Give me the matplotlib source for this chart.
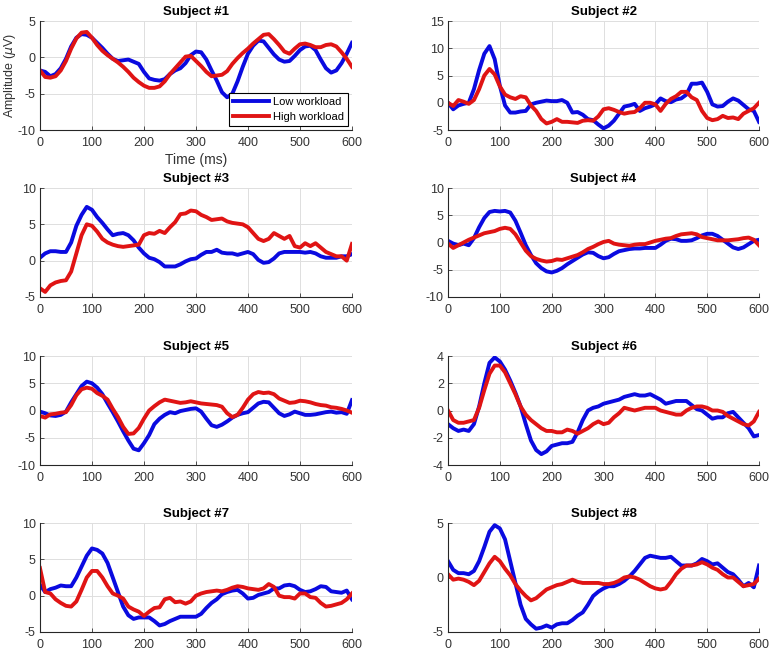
import matplotlib
matplotlib.use("Agg")
import matplotlib.pyplot as plt
import numpy as np

plt.rcParams['font.family'] = ['Liberation Sans', 'DejaVu Sans']
plt.rcParams['axes.unicode_minus'] = False

# time axis (ms), one sample every 10 ms
time_ms = np.arange(0, 601, 10)
x_ticks = [0, 100, 200, 300, 400, 500, 600]

# ERP amplitudes (uV), low / high workload per subject
low_1 = [-1.8, -2.0, -2.6, -2.3, -1.5, -0.2, 1.5, 2.7, 3.2, 3.1, 2.7, 2.0, 1.3, 0.5, -0.2, -0.5,
         -0.4, -0.3, -0.6, -0.9, -2.0, -2.9, -3.1, -3.2, -3.0, -2.3, -1.8, -1.5, -0.8, 0.3, 0.8,
         0.7, -0.3, -1.8, -3.2, -4.8, -5.5, -5.0, -3.3, -1.3, 0.5, 1.6, 2.3, 2.2, 1.3, 0.4, -0.3,
         -0.6, -0.5, 0.2, 1.0, 1.5, 1.6, 1.0, -0.3, -1.5, -2.1, -1.8, -0.8, 0.5, 2.0]
high_1 = [-1.8, -2.7, -2.8, -2.6, -1.8, -0.5, 1.2, 2.6, 3.4, 3.5, 2.7, 1.7, 0.9, 0.3, -0.2, -0.7,
          -1.3, -2.0, -2.8, -3.4, -3.9, -4.2, -4.2, -4.0, -3.3, -2.3, -1.5, -0.7, 0.1, 0.2, -0.5,
          -1.2, -2.0, -2.6, -2.5, -2.4, -1.9, -0.9, -0.1, 0.6, 1.2, 1.9, 2.5, 3.1, 3.2, 2.5, 1.7,
          0.8, 0.5, 1.2, 1.8, 1.9, 1.7, 1.4, 1.4, 1.7, 1.8, 1.5, 0.7, -0.2, -1.3]

low_2 = [0.0, -1.2, -0.5, -0.2, 0.0, 2.5, 6.0, 9.0, 10.4, 8.0, 3.1, -0.5, -1.8, -1.8, -1.6, -1.5,
         -0.3, 0.0, 0.2, 0.4, 0.3, 0.3, 0.5, 0.0, -1.8, -1.7, -2.2, -3.0, -3.2, -4.0, -4.7,
         -4.2, -3.3, -2.0, -0.7, -0.5, -0.2, -1.5, -1.0, -0.7, -0.3, 0.8, 0.3, 0.1, 0.6, 0.8, 1.5,
         3.5, 3.5, 3.7, 2.0, -0.3, -0.7, -0.6, 0.2, 0.8, 0.4, -0.4, -1.2, -1.5, -3.5]
high_2 = [0.0, -0.6, 0.5, 0.2, -0.2, 0.5, 2.5, 5.0, 6.2, 5.2, 3.0, 1.5, 1.0, 0.7, 1.2, 1.0,
          -0.5, -1.5, -3.0, -3.8, -3.5, -3.0, -3.5, -3.5, -3.6, -3.7, -3.3, -3.2, -3.3, -2.5, -1.2,
          -1.0, -1.3, -1.7, -2.0, -1.8, -1.7, -1.0, 0.0, 0.0, -0.3, -1.5, -0.2, 0.7, 1.2, 2.0, 2.0,
          1.0, 0.5, -1.5, -2.8, -3.2, -3.0, -2.4, -2.8, -2.7, -3.0, -2.0, -1.5, -1.0, 0.0]

low_3 = [0.4, 1.0, 1.3, 1.3, 1.2, 1.2, 2.5, 4.8, 6.3, 7.4, 7.0, 6.0, 5.2, 4.3, 3.5, 3.7,
         3.8, 3.5, 2.8, 1.8, 1.0, 0.4, 0.2, -0.2, -0.8, -0.8, -0.8, -0.5, -0.1, 0.2, 0.3,
         0.8, 1.2, 1.2, 1.5, 1.1, 1.0, 1.0, 0.8, 1.0, 1.2, 0.9, 0.1, -0.3, -0.2, 0.3, 1.0,
         1.2, 1.2, 1.2, 1.2, 1.1, 1.2, 1.0, 0.6, 0.4, 0.4, 0.4, 0.6, 0.6, 0.9]
high_3 = [-3.8, -4.3, -3.4, -3.0, -2.8, -2.7, -1.5, 1.0, 3.5, 5.0, 4.8, 4.0, 3.0, 2.5, 2.2, 2.0,
          1.9, 2.0, 2.1, 2.2, 3.5, 3.8, 3.7, 4.1, 3.8, 4.6, 5.3, 6.4, 6.5, 6.9, 6.8,
          6.3, 6.0, 5.6, 5.7, 5.8, 5.4, 5.2, 5.1, 5.0, 4.6, 3.8, 3.0, 2.7, 3.0, 3.8, 3.4,
          3.0, 3.4, 2.0, 1.8, 2.4, 2.0, 2.4, 1.8, 1.2, 0.9, 0.6, 0.6, 0.0, 2.3]

low_4 = [0.3, -0.2, -0.5, -0.2, -0.5, 0.8, 2.8, 4.5, 5.6, 5.8, 5.7, 5.8, 5.5, 4.0, 1.8, -0.5,
         -2.3, -3.8, -4.7, -5.3, -5.5, -5.2, -4.7, -4.0, -3.4, -2.8, -2.2, -1.8, -1.9, -2.5, -2.9,
         -2.7, -2.1, -1.6, -1.4, -1.2, -1.1, -1.1, -1.0, -1.0, -1.0, -0.4, 0.3, 0.7, 0.6, 0.3, 0.3,
         0.4, 0.8, 1.3, 1.6, 1.6, 1.2, 0.5, -0.2, -0.9, -1.2, -0.9, -0.3, 0.3, 0.5]
high_4 = [-0.2, -1.0, -0.5, 0.0, 0.5, 0.9, 1.3, 1.7, 1.9, 2.1, 2.5, 2.7, 2.5, 1.5, 0.0, -1.5,
          -2.5, -3.0, -3.3, -3.5, -3.4, -3.1, -3.2, -2.9, -2.6, -2.3, -1.8, -1.2, -0.8, -0.3, 0.1,
          0.3, -0.2, -0.4, -0.5, -0.6, -0.4, -0.3, -0.3, 0.0, 0.3, 0.5, 0.7, 0.8, 1.2, 1.5, 1.6,
          1.7, 1.5, 1.0, 0.8, 0.6, 0.4, 0.4, 0.4, 0.5, 0.6, 0.8, 0.9, 0.5, -0.5]

low_5 = [-0.2, -0.5, -0.9, -1.0, -0.8, -0.2, 1.5, 3.0, 4.5, 5.3, 5.0, 4.2, 3.0, 1.3, -0.3, -2.0,
         -3.8, -5.5, -7.0, -7.3, -6.0, -4.5, -2.5, -1.5, -0.8, -0.3, -0.5, -0.1, 0.1, 0.3, 0.4,
         -0.2, -1.5, -2.7, -3.0, -2.6, -2.0, -1.3, -0.8, -0.5, -0.3, 0.5, 1.3, 1.6, 1.5, 0.5, -0.5,
         -1.0, -0.7, -0.2, -0.5, -0.8, -0.8, -0.7, -0.5, -0.3, -0.2, -0.4, -0.3, -0.6, 1.9]
high_5 = [-1.0, -1.3, -0.7, -0.6, -0.4, -0.3, 1.0, 2.8, 3.9, 4.2, 4.0, 3.2, 2.7, 2.0, 0.3, -1.2,
          -3.0, -4.3, -4.2, -3.2, -1.5, 0.0, 0.8, 1.5, 2.0, 1.8, 1.6, 1.4, 1.5, 1.7, 1.5,
          1.3, 1.2, 1.1, 1.0, 0.7, -0.5, -1.2, -0.8, 0.5, 2.0, 3.0, 3.4, 3.2, 3.3, 3.0, 2.2,
          1.8, 1.4, 1.5, 1.8, 1.7, 1.5, 1.2, 1.0, 0.9, 0.6, 0.5, 0.3, 0.0, -0.4]

low_6 = [-1.0, -1.3, -1.5, -1.4, -1.5, -1.0, 0.3, 2.0, 3.5, 3.9, 3.6, 3.0, 2.2, 1.3, 0.3, -1.0,
         -2.2, -2.9, -3.2, -3.0, -2.6, -2.5, -2.4, -2.4, -2.3, -1.6, -0.7, 0.0, 0.2, 0.3, 0.5,
         0.6, 0.7, 0.8, 1.0, 1.1, 1.2, 1.1, 1.1, 1.2, 1.0, 0.8, 0.5, 0.6, 0.7, 0.7, 0.7,
         0.4, 0.1, 0.0, -0.3, -0.6, -0.5, -0.5, -0.2, -0.1, -0.5, -0.9, -1.3, -1.9, -1.8]
high_6 = [0.0, -0.7, -0.9, -0.9, -0.8, -0.7, 0.2, 1.5, 2.7, 3.3, 3.3, 2.8, 2.0, 1.2, 0.3, -0.3,
          -0.7, -1.0, -1.3, -1.5, -1.5, -1.6, -1.6, -1.4, -1.5, -1.7, -1.5, -1.3, -1.0, -0.8, -1.0,
          -0.9, -0.5, -0.2, 0.2, 0.1, 0.0, 0.1, 0.2, 0.2, 0.2, 0.0, -0.1, -0.2, -0.3, -0.3, 0.0,
          0.2, 0.3, 0.3, 0.2, 0.0, 0.0, -0.1, -0.4, -0.6, -0.8, -1.0, -1.1, -0.8, -0.1]

low_7 = [1.5, 0.5, 0.9, 1.1, 1.4, 1.3, 1.3, 2.5, 4.0, 5.5, 6.5, 6.3, 5.8, 4.5, 2.5, 0.5,
         -1.5, -2.7, -3.2, -3.0, -3.0, -3.0, -3.5, -4.1, -3.9, -3.5, -3.2, -2.9, -2.9, -2.9, -2.9,
         -2.5, -1.7, -1.0, -0.5, 0.2, 0.5, 0.7, 0.8, 0.3, -0.4, -0.3, 0.1, 0.3, 0.5, 1.0, 1.0,
         1.4, 1.5, 1.3, 0.8, 0.5, 0.6, 0.9, 1.3, 1.2, 0.6, 0.5, 0.4, 0.7, -0.5]
high_7 = [3.8, 0.5, 0.3, -0.5, -1.0, -1.4, -1.5, -0.8, 0.8, 2.5, 3.4, 3.4, 2.5, 1.3, 0.3, 0.0,
          -0.4, -1.5, -1.9, -2.2, -2.8, -2.2, -1.7, -1.6, -0.5, -0.3, -0.9, -0.8, -1.1, -0.8, 0.0,
          0.3, 0.5, 0.6, 0.7, 0.6, 0.8, 1.1, 1.3, 1.2, 1.0, 0.9, 0.8, 1.0, 1.6, 1.2, 0.0,
          -0.2, -0.2, -0.4, 0.3, 0.3, -0.2, -0.3, -1.0, -1.5, -1.4, -1.2, -1.0, -0.5, 0.3]

low_8 = [1.5, 0.7, 0.4, 0.4, 0.3, 0.6, 1.5, 2.8, 4.2, 4.8, 4.5, 3.5, 1.5, -0.5, -2.5, -3.8,
         -4.3, -4.7, -4.6, -4.4, -4.6, -4.3, -4.2, -4.2, -3.9, -3.5, -3.2, -2.5, -1.7, -1.3, -1.0,
         -0.8, -0.8, -0.6, -0.3, 0.1, 0.6, 1.2, 1.8, 2.0, 1.9, 1.8, 1.8, 1.9, 1.5, 1.1, 1.1,
         1.1, 1.3, 1.7, 1.5, 1.2, 1.3, 0.9, 0.5, 0.3, -0.2, -0.8, -0.5, -0.9, 1.1]
high_8 = [0.3, -0.2, -0.1, -0.2, -0.4, -0.7, -0.3, 0.5, 1.3, 1.9, 1.5, 0.8, 0.2, -0.6, -1.2, -1.7,
          -2.1, -1.9, -1.5, -1.1, -0.9, -0.7, -0.6, -0.4, -0.2, -0.4, -0.5, -0.5, -0.5, -0.5, -0.6,
          -0.6, -0.5, -0.3, 0.0, 0.1, 0.0, -0.2, -0.5, -0.8, -1.0, -1.1, -1.0, -0.4, 0.3, 0.8, 1.1,
          1.1, 1.2, 1.4, 1.2, 0.9, 0.7, 0.3, 0.0, 0.0, -0.4, -0.8, -0.7, -0.6, -0.1]

low_workload = [low_1, low_2, low_3, low_4, low_5, low_6, low_7, low_8]
high_workload = [high_1, high_2, high_3, high_4, high_5, high_6, high_7, high_8]

y_limits = [(-10, 5), (-5, 15), (-5, 10), (-10, 10), (-10, 10), (-4, 4), (-5, 10), (-5, 5)]
y_ticks = [[-10, -5, 0, 5], [-5, 0, 5, 10, 15], [-5, 0, 5, 10], [-10, -5, 0, 5, 10],
           [-10, -5, 0, 5, 10], [-4, -2, 0, 2, 4], [-5, 0, 5, 10], [-5, 0, 5]]

low_color = "#0a0ae0"
high_color = "#e01414"
text_color = "#333333"


def main():
    fig = plt.figure(figsize=(7.73, 6.51), dpi=100)

    # axes positions in figure fractions (left column / right column, four rows)
    lefts = [0.0517, 0.5796]
    widths = [0.4036, 0.4023]
    bottoms = [0.8003, 0.5438, 0.2857, 0.0292]
    height = 0.1674

    for i in range(8):
        row, col = i // 2, i % 2
        ax = fig.add_axes([lefts[col], bottoms[row], widths[col], height])

        ax.plot(time_ms, low_workload[i], c=low_color, lw=2.8, label="Low workload")
        ax.plot(time_ms, high_workload[i], c=high_color, lw=2.8, label="High workload")

        ax.set_xlim(0, 600)
        ax.set_ylim(*y_limits[i])
        ax.set_xticks(x_ticks)
        ax.set_yticks(y_ticks[i])
        ax.grid(True, color="#dedede", lw=0.7)
        ax.set_axisbelow(True)

        ax.spines["right"].set_visible(False)
        ax.spines["top"].set_visible(False)
        for side in ["left", "bottom"]:
            ax.spines[side].set_color("#262626")
            ax.spines[side].set_linewidth(0.8)
        ax.tick_params(direction="in", length=3, width=0.6, colors=text_color, labelsize=9)
        ax.tick_params(axis="x", pad=5)
        ax.tick_params(axis="y", pad=3)

        ax.set_title("Subject #%d" % (i + 1), fontsize=9.5, fontweight="bold", color="black", pad=4)

        if i == 0:
            ax.set_xlabel("Time (ms)", fontsize=10, color=text_color, labelpad=3)
            ax.set_ylabel("Amplitude ($\\mu$V)", fontsize=9, color=text_color)
            ax.yaxis.set_label_coords(-0.07, 0.5)
            leg = ax.legend(loc="lower right", fontsize=8, frameon=True, fancybox=False,
                            borderaxespad=0.4, handlelength=3.3, borderpad=0.35, labelspacing=0.45,
                            handletextpad=0.3)
            leg.get_frame().set_edgecolor("black")
            leg.get_frame().set_linewidth(0.8)
            leg.get_frame().set_alpha(1)

    fig.savefig("out.png", dpi=100)


if __name__ == '__main__':
    main()
